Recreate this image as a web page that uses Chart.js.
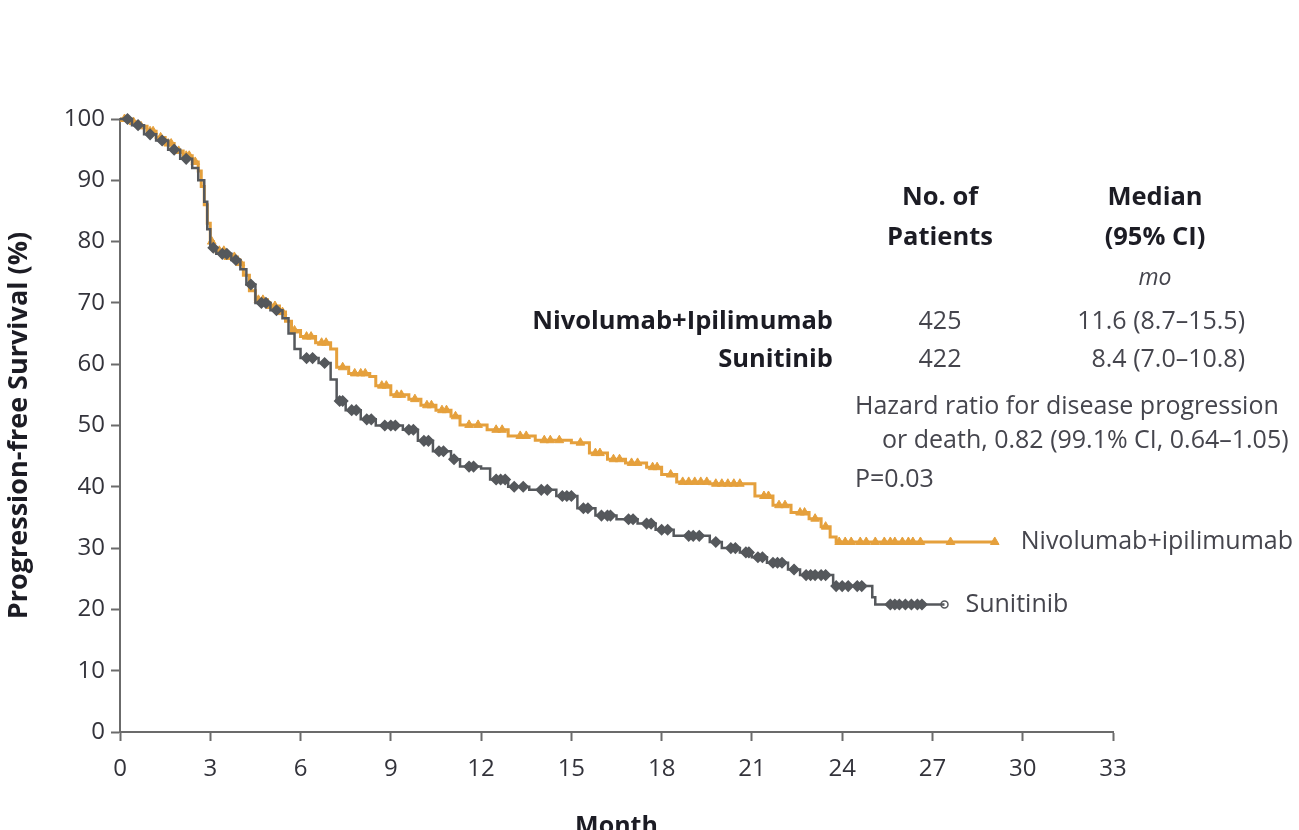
<!DOCTYPE html>
<html>
<head>
<meta charset="utf-8">
<script src="https://cdn.jsdelivr.net/npm/chart.js@4.4.1/dist/chart.umd.min.js"></script>
<style>
  html, body { margin: 0; padding: 0; background: #fff; }
  canvas { display: block; }
</style>
</head>
<body>
<canvas id="pfs" width="1299" height="830"></canvas>
<script>
// Kaplan-Meier steps: month of event and % progression-free after it
const nivoMonths = [0, 0.3, 0.6, 0.9, 1.2, 1.5, 1.8, 2.1, 2.4, 2.6, 2.7, 2.8, 2.9, 3.0, 3.1, 3.5, 3.9, 4.1, 4.3, 4.5,
  4.9, 5.3, 5.5, 5.7, 6.0, 6.5, 7.0, 7.2, 7.6, 8.3, 8.5, 9.0, 9.6, 10.0, 10.5, 11.0, 11.3, 12.2, 12.9, 13.8,
  15.0, 15.6, 16.2, 16.8, 17.5, 18.0, 18.5, 19.6, 21.1, 21.7, 22.3, 22.9, 23.3, 23.6, 23.8, 29.07];
const nivoPfs = [100, 99.5, 98.8, 98, 97, 96, 94.8, 94, 93, 91.5, 89, 86, 83, 80, 78.5, 77.5, 76.5, 74.5, 72, 70.5,
  69.5, 68.5, 67, 65.5, 64.5, 63.5, 62.5, 59.5, 58.5, 58, 56.5, 55, 54.3, 53.3, 52.5, 51.5, 50.1, 49.3, 48.3, 47.6,
  47.2, 45.5, 44.5, 43.9, 43.2, 42, 40.8, 40.5, 38.5, 37, 35.8, 34.8, 33.5, 31.8, 31, 31];

const sunMonths = [0, 0.4, 0.8, 1.2, 1.6, 2.0, 2.4, 2.6, 2.8, 2.9, 3.0, 3.2, 3.7, 4.0, 4.2, 4.5, 5.0, 5.4, 5.6, 5.8,
  6.0, 6.6, 7.0, 7.2, 7.5, 8.0, 8.5, 9.4, 9.9, 10.4, 11.0, 11.3, 12.0, 12.3, 12.9, 13.6, 14.5, 15.2, 15.8, 16.5,
  17.2, 17.8, 18.4, 19.6, 20.0, 20.6, 21.0, 21.5, 22.2, 22.6, 23.7, 25.0, 25.1, 27.4];
const sunPfs = [100, 99, 97.5, 96.5, 95, 93.5, 92, 90, 86.5, 82, 79, 78, 77, 75.5, 73, 70, 68.8, 67.5, 65, 62.5,
  61, 60.2, 57.5, 54, 52.5, 51, 50, 49.3, 47.5, 45.8, 44.5, 43.3, 43, 41.2, 40, 39.5, 38.5, 36.5, 35.3, 34.7,
  34, 33, 32, 31, 30, 29.3, 28.5, 27.6, 26.5, 25.6, 23.8, 22, 20.8, 20.8];

// censored patients (months)
const nivoCensor = [0.15, 0.45, 0.7, 1.0, 1.1, 1.35, 1.6, 1.7, 1.95, 2.2, 2.3, 2.5, 3.05, 3.3, 3.45, 3.6, 3.8,
  4.0, 4.6, 4.75, 5.0, 5.15, 5.4, 5.8, 6.2, 6.35, 6.7, 6.85, 7.4, 7.8, 8.0, 8.15, 8.7, 8.85, 9.2, 9.35, 9.8,
  10.2, 10.35, 10.7, 10.85, 11.15, 11.6, 11.9, 12.5, 12.7, 13.3, 13.5, 14.1, 14.3, 14.6, 15.3, 15.8, 15.95,
  16.4, 16.6, 17.0, 17.2, 17.7, 17.85, 18.3, 18.7, 18.9, 19.1, 19.3, 19.5, 19.8, 20.0, 20.2, 20.4, 20.6, 21.4,
  21.55, 21.9, 22.1, 22.6, 22.75, 23.1, 23.45, 23.9, 24.1, 24.3, 24.6, 24.8, 25.1, 25.4, 25.6, 25.75, 26.0,
  26.2, 26.35, 26.6, 27.6, 29.07];
const sunCensor = [0.25, 0.6, 1.0, 1.4, 1.8, 2.2, 3.1, 3.4, 3.55, 3.85, 4.35, 4.7, 4.85, 5.2, 6.2, 6.4, 6.8,
  7.3, 7.4, 7.7, 7.85, 8.2, 8.35, 8.8, 9.0, 9.15, 9.6, 9.75, 10.1, 10.25, 10.6, 10.75, 11.1, 11.6, 11.75,
  12.5, 12.65, 12.8, 13.1, 13.4, 14.0, 14.2, 14.7, 14.85, 15.0, 15.4, 15.55, 16.0, 16.2, 16.3, 16.9, 17.05,
  17.5, 17.65, 18.0, 18.2, 18.9, 19.05, 19.25, 19.8, 20.3, 20.45, 20.8, 20.9, 21.2, 21.35, 21.7, 21.85, 22.0,
  22.4, 22.8, 22.95, 23.1, 23.3, 23.45, 23.8, 24.0, 24.2, 24.5, 24.65, 25.6, 25.75, 25.9, 26.1, 26.3, 26.5,
  26.65, 27.4];

const monthTicks = [0, 3, 6, 9, 12, 15, 18, 21, 24, 27, 30, 33];
const pfsTicks = [0, 10, 20, 30, 40, 50, 60, 70, 80, 90, 100];

const ORANGE = '#e5a03c';
const GREY = '#55585c';
const FONT = '"Open Sans", "Noto Sans", sans-serif';

// value of a step curve at month t
function stepValue(months, values, t) {
  let v = values[0];
  for (let i = 0; i < months.length; i++) {
    if (months[i] <= t) v = values[i];
    else break;
  }
  return v;
}

const toPoints = (xs, ys) => xs.map((m, i) => ({ x: m, y: ys[i] }));
const censorPoints = (ts, xs, ys) => ts.map(t => ({ x: t, y: stepValue(xs, ys, t) }));

// table + labels drawn on top of the curves
const textPlugin = {
  id: 'pfsText',
  afterDatasetsDraw(chart) {
    const { ctx, scales: { x, y } } = chart;
    ctx.save();
    ctx.textBaseline = 'middle';
    const put = (txt, px, py, align, font, color) => {
      ctx.font = font;
      ctx.fillStyle = color;
      ctx.textAlign = align;
      ctx.fillText(txt, px, py);
    };
    const bold = 'bold 25.5px ' + FONT;
    const reg = '25px ' + FONT;
    const dark = '#1c1c24';
    const mid = '#45454d';

    put('No. of', 940, 198, 'center', bold, dark);
    put('Patients', 940, 238, 'center', bold, dark);
    put('Median', 1155, 198, 'center', bold, dark);
    put('(95% CI)', 1155, 238, 'center', bold, dark);
    put('mo', 1155, 278, 'center', 'italic 23px ' + FONT, mid);

    put('Nivolumab+Ipilimumab', 833, 322, 'right', bold, dark);
    put('Sunitinib', 833, 360, 'right', bold, dark);
    put('425', 940, 322, 'center', reg, mid);
    put('422', 940, 360, 'center', reg, mid);
    put('11.6 (8.7\u201315.5)', 1245, 322, 'right', reg, mid);
    put('8.4 (7.0\u201310.8)', 1245, 360, 'right', reg, mid);

    put('Hazard ratio for disease progression', 855, 407, 'left', reg, mid);
    put('or death, 0.82 (99.1% CI, 0.64\u20131.05)', 882, 441, 'left', reg, mid);
    put('P=0.03', 855, 480, 'left', reg, mid);

    // curve labels at the end of each line
    const nl = nivoMonths.length - 1, sl = sunMonths.length - 1;
    put('Nivolumab+ipilimumab', x.getPixelForValue(nivoMonths[nl]) + 26, y.getPixelForValue(nivoPfs[nl]), 'left', reg, mid);
    put('Sunitinib', x.getPixelForValue(sunMonths[sl]) + 21, y.getPixelForValue(sunPfs[sl]), 'left', reg, mid);
    ctx.restore();
  }
};

const sunLast = sunCensor.length - 1;

new Chart(document.getElementById('pfs'), {
  type: 'line',
  data: {
    datasets: [
      {
        data: toPoints(sunMonths, sunPfs),
        stepped: true, borderColor: GREY, borderWidth: 2.5, pointRadius: 0, clip: false
      },
      {
        type: 'scatter',
        data: censorPoints(sunCensor, sunMonths, sunPfs),
        pointStyle: ctx => ctx.dataIndex === sunLast ? 'circle' : 'rectRot',
        pointRadius: ctx => ctx.dataIndex === sunLast ? 3.5 : 5,
        pointBackgroundColor: ctx => ctx.dataIndex === sunLast ? '#fff' : GREY,
        pointBorderColor: GREY, pointBorderWidth: 1.5, clip: false
      },
      {
        data: toPoints(nivoMonths, nivoPfs),
        stepped: true, borderColor: ORANGE, borderWidth: 3, pointRadius: 0, clip: false
      },
      {
        type: 'scatter',
        data: censorPoints(nivoCensor, nivoMonths, nivoPfs),
        pointStyle: 'triangle', pointRadius: 5,
        pointBackgroundColor: ORANGE, pointBorderColor: ORANGE, pointBorderWidth: 1, clip: false
      }
    ]
  },
  options: {
    responsive: false,
    animation: false,
    devicePixelRatio: 1,
    layout: { padding: { top: 119, right: 186, bottom: 0, left: 0 } },
    plugins: { legend: { display: false }, tooltip: { enabled: false } },
    scales: {
      x: {
        type: 'linear', min: 0, max: 33,
        afterBuildTicks: s => { s.ticks = monthTicks.map(v => ({ value: v })); },
        afterFit: s => { s.height = 98; },
        ticks: { color: '#33333b', font: { family: FONT, size: 24 }, padding: 14, maxRotation: 0 },
        grid: { drawOnChartArea: false, drawTicks: true, tickLength: 9, color: '#6b6b6b', tickWidth: 2 },
        border: { color: '#6b6b6b', width: 2 },
        title: {
          display: true, text: 'Month', color: '#1c1c24',
          font: { family: FONT, size: 25, weight: 'bold' }, padding: { top: 0, bottom: -12 }
        }
      },
      y: {
        min: 0, max: 100,
        afterBuildTicks: s => { s.ticks = pfsTicks.map(v => ({ value: v })); },
        afterFit: s => { s.width = 120; },
        ticks: { color: '#33333b', font: { family: FONT, size: 24 }, padding: 6 },
        grid: { drawOnChartArea: false, drawTicks: true, tickLength: 9, color: '#6b6b6b', tickWidth: 2 },
        border: { color: '#6b6b6b', width: 2 },
        title: {
          display: true, text: 'Progression-free Survival (%)', color: '#1c1c24',
          font: { family: FONT, size: 27, weight: 'bold' }, padding: { top: 3, bottom: 0 }
        }
      }
    }
  },
  plugins: [textPlugin]
});
</script>
</body>
</html>
